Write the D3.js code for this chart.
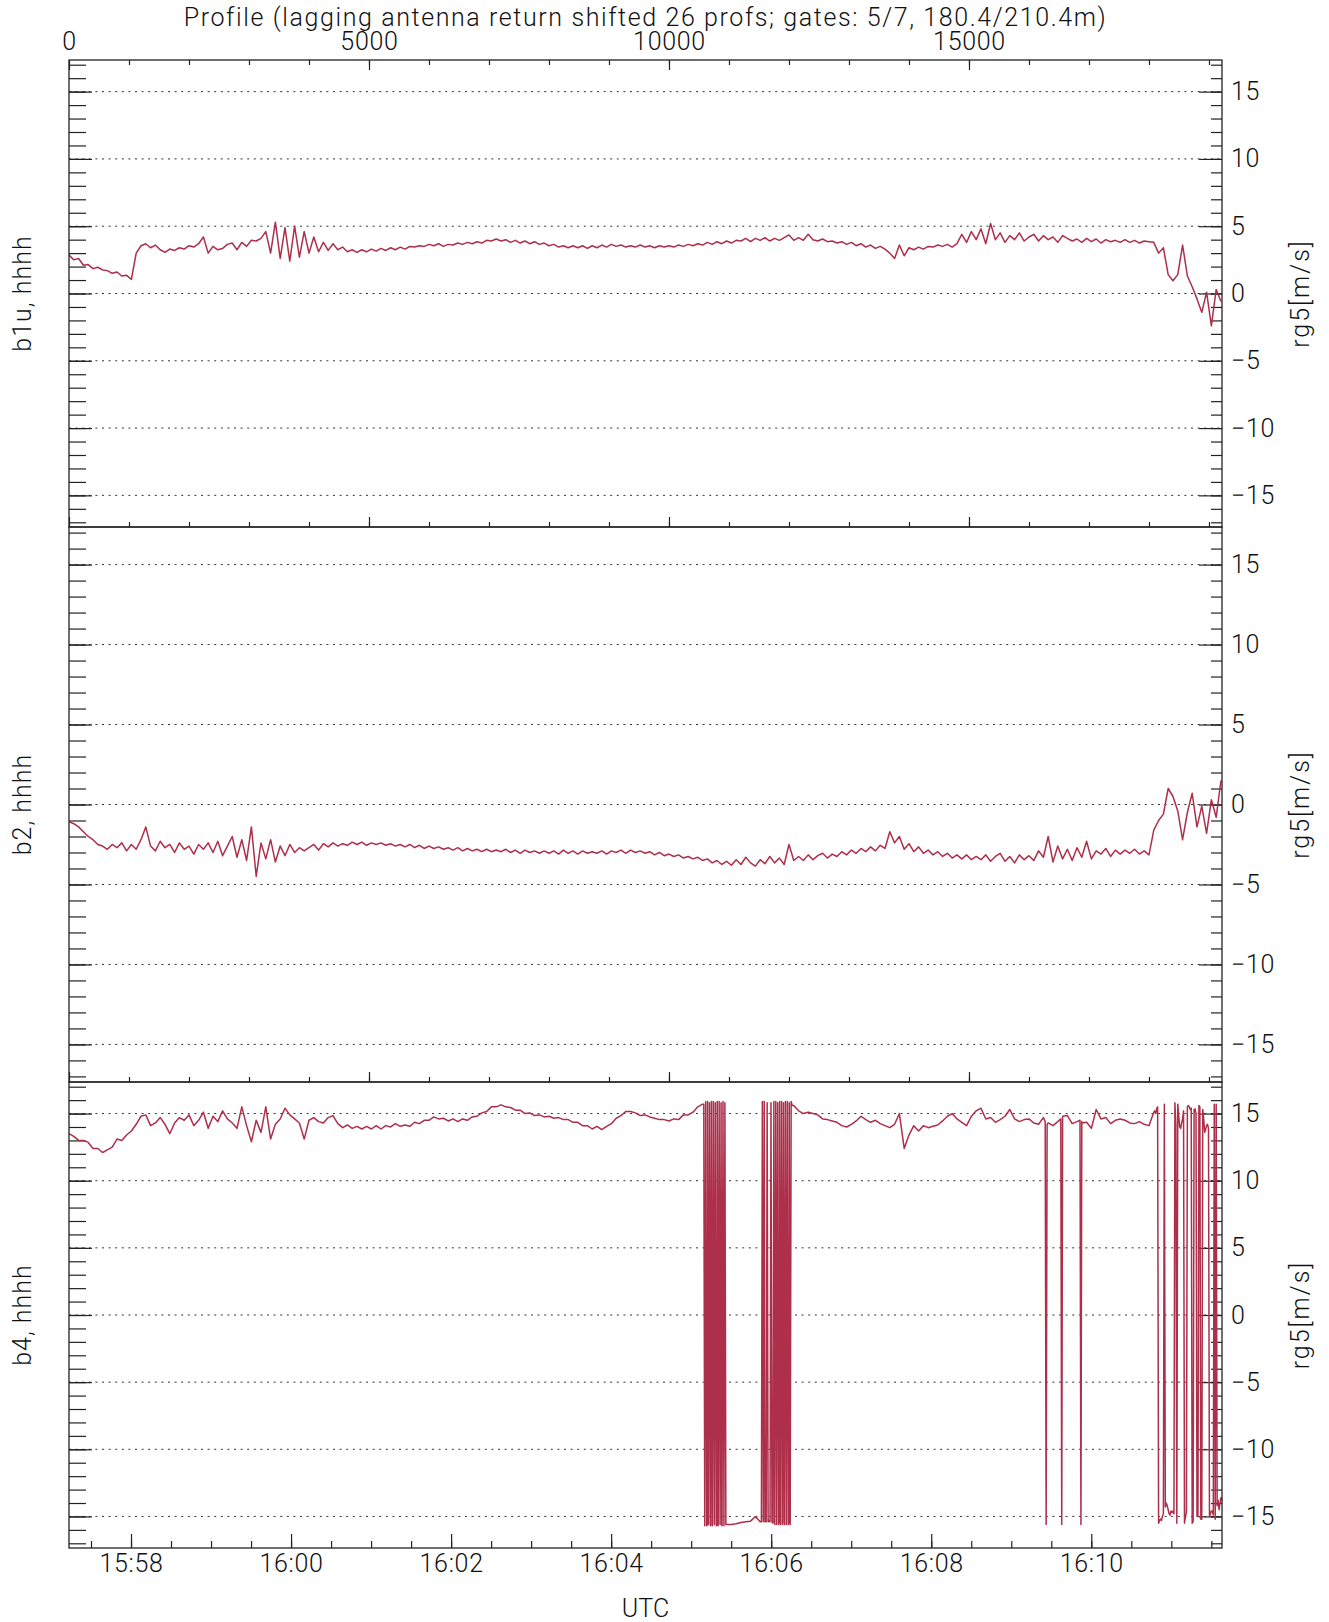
<!DOCTYPE html>
<html lang="en">
<head>
<meta charset="UTF-8">
<title>Profile b1u / b2 / b4</title>
<script src="https://d3js.org/d3.v7.min.js"></script>
<style>
  body { margin: 0; background: #fff; }
  text { font-family: Roboto, "DejaVu Sans", sans-serif; font-weight: 300; fill: #111; }
  .axis path.domain { display: none; }
  .axis line { stroke: #222; stroke-width: 1.2; }
  .axis text { font-family: Roboto, "DejaVu Sans", sans-serif; font-weight: 300; font-size: 25px; letter-spacing: 0.7px; fill: #111; }
</style>
</head>
<body>
<svg id="svg"></svg>
<script>
// one value every profStep profiles, starting at profile 0
const profStep = 80;

const b1u = [
  2.86, 2.5, 2.6, 2.1, 2.15, 1.85, 1.95, 1.75, 1.7, 1.5,
  1.6, 1.3, 1.35, 1.05, 3.0, 3.55, 3.7, 3.4, 3.6, 3.25,
  3.05, 3.3, 3.2, 3.4, 3.3, 3.55, 3.45, 3.7, 4.2, 3.0,
  3.5, 3.25, 3.35, 3.65, 3.75, 3.25, 3.8, 3.5, 3.95, 3.9,
  4.1, 4.6, 3.0, 5.3, 2.6, 4.9, 2.4, 5.0, 2.7, 4.6,
  3.0, 4.2, 3.1, 3.8, 3.2, 3.7, 3.25, 3.45, 3.1, 3.25,
  3.05, 3.25, 3.1, 3.3, 3.15, 3.35, 3.2, 3.4, 3.25, 3.45,
  3.3, 3.5, 3.45, 3.55, 3.5, 3.65, 3.55, 3.7, 3.5, 3.65,
  3.6, 3.75, 3.65, 3.8, 3.7, 3.85, 3.75, 3.95, 3.9, 4.05,
  3.9, 4.0, 3.8, 3.95, 3.75, 3.9, 3.7, 3.85, 3.65, 3.75,
  3.55, 3.65, 3.45, 3.55, 3.4, 3.55, 3.4, 3.55, 3.35, 3.55,
  3.4, 3.6, 3.45, 3.65, 3.5, 3.6, 3.45, 3.55, 3.45, 3.6,
  3.45, 3.55, 3.4, 3.55, 3.45, 3.55, 3.45, 3.6, 3.5, 3.65,
  3.55, 3.7, 3.6, 3.8, 3.65, 3.85, 3.7, 3.9, 3.75, 3.95,
  3.9, 4.1, 3.85, 4.1, 3.95, 4.15, 3.9, 4.1, 3.95, 4.15,
  4.35, 3.95, 4.15, 3.95, 4.4, 4.0, 3.9, 4.05, 3.85, 3.9,
  3.75, 3.85, 3.65, 3.8, 3.55, 3.7, 3.45, 3.6, 3.35, 3.5,
  3.3, 3.0, 2.6, 3.6, 2.8, 3.4, 3.25, 3.45, 3.3, 3.5,
  3.45, 3.6, 3.5, 3.65, 3.45, 3.7, 4.4, 3.8, 4.6, 4.0,
  4.8, 3.7, 5.2, 4.0, 4.5, 3.8, 4.3, 4.0, 4.5, 3.9,
  4.2, 4.4, 3.9, 4.3, 4.0, 4.2, 3.8, 4.3, 4.1, 3.9,
  4.05, 3.8, 4.1, 3.85, 4.05, 3.75, 4.0, 3.85, 3.95, 3.8,
  4.0, 3.8, 3.95, 3.75, 3.9, 3.85, 3.8, 3.0, 3.4, 1.4,
  0.95, 1.4, 3.6, 1.3, 0.5, -0.4, -1.4, 0.1, -2.4, 0.3, -0.6
];

const b2 = [
  -1.07, -1.2, -1.4, -1.7, -2.0, -2.2, -2.5, -2.6, -2.8, -2.5,
  -2.7, -2.4, -2.9, -2.5, -2.8, -2.2, -1.4, -2.6, -2.9, -2.3,
  -2.7, -2.5, -3.0, -2.4, -2.8, -2.6, -3.1, -2.5, -2.8, -2.4,
  -3.0, -2.3, -3.2, -2.6, -2.0, -3.3, -2.2, -3.5, -1.4, -4.5,
  -2.4, -3.4, -2.2, -3.6, -2.6, -3.2, -2.5, -3.0, -2.7, -2.9,
  -2.7, -2.5, -2.85, -2.45, -2.65, -2.4, -2.6, -2.45, -2.55, -2.35,
  -2.5, -2.35, -2.55, -2.4, -2.5, -2.4, -2.55, -2.45, -2.6, -2.5,
  -2.65, -2.5, -2.7, -2.55, -2.75, -2.6, -2.75, -2.65, -2.8, -2.7,
  -2.85, -2.7, -2.9, -2.75, -2.9, -2.8, -2.95, -2.8, -2.95, -2.85,
  -2.95, -2.8, -3.0, -2.85, -3.05, -2.85, -3.0, -2.9, -3.05, -2.9,
  -3.05, -2.9, -3.1, -2.85, -3.05, -2.9, -3.1, -2.9, -3.05, -2.95,
  -3.05, -2.9, -3.1, -2.9, -3.0, -2.85, -3.05, -2.85, -3.0, -2.9,
  -3.05, -2.95, -3.15, -3.0, -3.2, -3.1, -3.25, -3.15, -3.35, -3.25,
  -3.4, -3.3, -3.5, -3.4, -3.65, -3.5, -3.75, -3.55, -3.8, -3.45,
  -3.75, -3.3, -3.65, -3.85, -3.45, -3.7, -3.25, -3.65, -3.35, -3.75,
  -2.5, -3.5, -3.25, -3.5, -3.15, -3.45, -3.2, -3.05, -3.35, -3.1,
  -3.25, -2.95, -3.15, -2.85, -3.05, -2.75, -2.95, -2.65, -2.9, -2.55,
  -2.75, -1.7, -2.4, -2.0, -2.8, -2.45, -2.95, -2.65, -3.05, -2.85,
  -3.15, -2.95, -3.25, -3.05, -3.35, -3.15, -3.4, -3.15, -3.45, -3.25,
  -3.45, -3.15, -3.55, -3.25, -3.05, -3.55, -3.25, -3.65, -3.15, -3.45,
  -3.2, -3.5, -2.9, -3.3, -2.0, -3.6, -2.6, -3.4, -2.8, -3.5,
  -2.7, -3.3, -2.3, -3.4, -2.9, -3.1, -2.75, -3.25, -2.85, -3.1,
  -2.85, -3.05, -2.8, -3.1, -2.9, -3.15, -1.6, -1.0, -0.6, 1.0,
  0.5, -0.4, -2.2, -0.5, 0.7, -1.4, -0.1, -1.8, 0.3, -0.8, 1.5
];

// b4 base series up to profile 18000, the rest comes from the last burst
const b4 = [
  13.5, 13.3, 13.0, 13.0, 12.85, 12.4, 12.4, 12.1, 12.3, 12.5,
  13.1, 13.0, 13.4, 13.7, 14.2, 14.8, 14.9, 14.1, 14.3, 14.7,
  14.2, 13.5, 14.3, 14.7, 14.5, 14.9, 14.1, 14.5, 15.1, 13.9,
  14.8, 14.4, 15.2, 14.6, 14.3, 13.9, 15.5, 14.1, 12.9, 14.5,
  13.6, 15.5, 13.1, 14.2, 14.6, 15.4, 14.9, 14.6, 14.3, 13.1,
  14.5, 14.7, 14.4, 14.3, 14.7, 14.85, 14.25, 13.95, 14.15, 13.9,
  14.05, 13.85, 14.05, 13.85, 14.1, 13.85, 14.1, 14.0, 14.25, 14.05,
  14.15, 14.05, 14.35, 14.25, 14.5, 14.5, 14.75, 14.6, 14.65, 14.45,
  14.6, 14.4, 14.6, 14.5, 14.75, 14.8, 15.05, 15.15, 15.5, 15.5,
  15.65, 15.5, 15.45, 15.25, 15.25, 15.0, 15.05, 14.85, 14.9, 14.75,
  14.8, 14.65, 14.7, 14.55, 14.55, 14.35, 14.35, 14.1, 14.1, 13.85,
  14.05, 13.8, 14.05, 14.25, 14.65, 14.85, 15.15, 15.15, 15.05, 14.85,
  14.9, 14.75, 14.65, 14.55, 14.55, 14.45, 14.6, 14.55, 14.9, 14.9,
  15.1, 15.5, 15.7, -15.6, -15.6, -15.6, -15.6, -15.6, -15.6, -15.55,
  -15.45, -15.4, -15.35, -15.0, -15.4, -15.4, -15.4, -15.4, -15.4, -15.4,
  -15.4, 15.6, 15.2, 15.0, 15.1, 15.0, 14.9, 14.6, 14.55, 14.45,
  14.35, 14.1, 14.0, 14.2, 14.45, 14.8, 14.55, 14.35, 14.5, 14.25,
  14.1, 13.95, 14.2, 15.0, 12.4, 13.4, 14.1, 13.7, 14.1, 13.95,
  14.05, 14.15, 14.45, 14.8, 15.0, 14.6, 14.35, 14.1, 14.8, 15.2,
  15.4, 14.6, 14.7, 14.35, 14.55, 14.8, 15.3, 14.6, 14.4, 14.55,
  14.6, 14.3, 14.2, 14.7, 14.3, 14.1, 14.4, 14.6, 14.85, 14.25,
  14.4, 14.4, 14.35, 13.9, 15.3, 14.6, 14.7, 14.25, 14.5, 14.6,
  14.5, 14.3, 14.25, 14.4, 14.2, 14.1
];

// aliased stretches of b4, sampled every burstStep profiles
const burstStep = 16;
const burstStart = [10580, 11540, 16270, 16530, 16850, 18080];
const burstVals = [
  [15.7, -15.7, 15.9, -15.7, 15.9, -15.6, 15.8, -15.7, 15.9, -15.7, 15.9, -15.6,
   15.8, -15.7, 15.9, -15.7, 15.9, -15.6, 15.8, -15.7, 15.9, -15.7, 15.8, -15.6],
  [-15.4, 15.9, -15.4, 15.9, -15.3, -15.4, 15.8, -15.4, -15.3, -15.4, 15.8, -15.4, -15.5,
   15.9, -15.6, 15.9, -15.6, 15.8, -15.6, 15.9, -15.6, 15.9, -15.6, 15.8, -15.6,
   15.9, -15.6, 15.9, -15.6, 15.8, -15.6, 15.9, 15.6],
  [14.4, -15.6, 14.2],
  [14.6, -15.6, 14.8],
  [14.5, -15.6, 14.3],
  [15.1, 15.2, 15.0, 15.35, 15.5, -15.5, -15.3, -15.2, -15.3, -15.0, -14.8, 15.7,
   -14.3, -14.0, -14.2, -14.5, -14.8, -14.9, -14.6, -14.7, -14.6, -14.8, 15.8, 14.2,
   -15.5, 15.7, 14.8, 14.0, 13.9, 14.3, 14.6, 15.2, -15.5, -15.0, -14.7, 15.5,
   15.6, 15.5, 15.3, 15.4, -15.5, -15.4, 15.3, 15.35, 15.0, -15.0, -15.0, 15.6,
   15.5, -15.2, -15.2, 15.3, 14.6, 13.6, 13.8, 14.1, 14.2, 13.9, -15.0, -14.8,
   -14.6, -14.6, -14.9, 15.7, -15.2, 15.7, -14.2, -13.8, -14.5, -14.0, -13.6, -13.8]
];

const panelNames = ["b1u, hhhh", "b2, hhhh", "b4, hhhh"];
const yTitle = "rg5[m/s]";
const titleText = "Profile (lagging antenna return shifted 26 profs; gates: 5/7, 180.4/210.4m)";
const gridValues = [-15, -10, -5, 0, 5, 10, 15];
const profTicks = [0, 5000, 10000, 15000];
const profMax = 19217;
const yLimit = 17.35;
const timeStart = new Date(2000, 0, 1, 15, 57, 13, 500);
const timeEnd = new Date(2000, 0, 1, 16, 11, 38);

const width = 1329, height = 1622;
const left = 69, right = 1222;
const panelTops = [60, 527, 1082];
const panelBottoms = [527, 1082, 1548];
const lineColor = "#ad2f4a";

const svg = d3.select("#svg").attr("width", width).attr("height", height);

const x = d3.scaleLinear().domain([0, profMax]).range([left, right]);
const xTime = d3.scaleTime().domain([timeStart, timeEnd]).range([left, right]);

const seriesPts = [
  b1u.map((v, i) => [i * profStep, v]),
  b2.map((v, i) => [i * profStep, v]),
  b4.map((v, i) => [i * profStep, v])
];
burstStart.forEach((s, k) => {
  burstVals[k].forEach((v, j) => seriesPts[2].push([s + j * burstStep, v]));
});
seriesPts[2].sort((a, b) => a[0] - b[0]);

const minorY = d3.range(-17, 18, 1);

panelNames.forEach((name, p) => {
  const top = panelTops[p], bottom = panelBottoms[p];
  const y = d3.scaleLinear().domain([-yLimit, yLimit]).range([bottom, top]);
  const g = svg.append("g");

  // dotted grid
  g.selectAll("line.grid").data(gridValues).enter().append("line")
    .attr("class", "grid")
    .attr("x1", left).attr("x2", right)
    .attr("y1", d => y(d)).attr("y2", d => y(d))
    .attr("stroke", "#333").attr("stroke-width", 1)
    .attr("stroke-dasharray", "2,4.6");

  // left ticks
  g.append("g").attr("class", "axis").attr("transform", `translate(${left},0)`)
    .call(d3.axisRight(y).tickValues(minorY).tickSize(17).tickSizeOuter(0).tickFormat(""));
  g.append("g").attr("class", "axis").attr("transform", `translate(${left},0)`)
    .call(d3.axisRight(y).tickValues(gridValues).tickSize(23).tickSizeOuter(0).tickFormat(""));

  // right ticks and labels
  g.append("g").attr("class", "axis").attr("transform", `translate(${right},0)`)
    .call(d3.axisLeft(y).tickValues(minorY).tickSize(11).tickSizeOuter(0).tickFormat(""));
  g.append("g").attr("class", "axis").attr("transform", `translate(${right},0)`)
    .call(d3.axisLeft(y).tickValues(gridValues).tickSize(23).tickSizeOuter(0).tickFormat(""));
  g.append("g").attr("class", "axis").attr("transform", `translate(${right},0)`)
    .call(d3.axisRight(y).tickValues(gridValues).tickSize(0).tickPadding(9).tickSizeOuter(0));

  // bottom edge ticks
  if (p < 2) {
    g.append("g").attr("class", "axis").attr("transform", `translate(0,${bottom})`)
      .call(d3.axisTop(x).tickValues(d3.range(1000, profMax, 1000)).tickSize(5).tickSizeOuter(0).tickFormat(""));
    g.append("g").attr("class", "axis").attr("transform", `translate(0,${bottom})`)
      .call(d3.axisTop(x).tickValues(profTicks).tickSize(10).tickSizeOuter(0).tickFormat(""));
  } else {
    g.append("g").attr("class", "axis").attr("transform", `translate(0,${bottom})`)
      .call(d3.axisTop(xTime).ticks(d3.timeSecond.every(30)).tickSize(7).tickSizeOuter(0).tickFormat(""));
    g.append("g").attr("class", "axis").attr("transform", `translate(0,${bottom})`)
      .call(d3.axisTop(xTime).ticks(d3.timeMinute.every(2)).tickSize(14).tickSizeOuter(0).tickFormat(""));
    g.append("g").attr("class", "axis").attr("transform", `translate(0,${bottom})`)
      .call(d3.axisBottom(xTime).ticks(d3.timeMinute.every(2)).tickSize(0).tickPadding(6)
        .tickSizeOuter(0).tickFormat(d3.timeFormat("%H:%M")));
  }

  // top profile axis on first panel
  if (p === 0) {
    g.append("g").attr("class", "axis").attr("transform", `translate(0,${top})`)
      .call(d3.axisBottom(x).tickValues(d3.range(1000, profMax, 1000)).tickSize(5).tickSizeOuter(0).tickFormat(""));
    g.append("g").attr("class", "axis").attr("transform", `translate(0,${top})`)
      .call(d3.axisBottom(x).tickValues(profTicks).tickSize(10).tickSizeOuter(0).tickFormat(""));
    g.append("g").attr("class", "axis").attr("transform", `translate(0,${top})`)
      .call(d3.axisTop(x).tickValues(profTicks).tickSize(0).tickPadding(10).tickSizeOuter(0)
        .tickFormat(d3.format("d")));
  }

  // data line
  g.append("path")
    .datum(seriesPts[p])
    .attr("fill", "none")
    .attr("stroke", lineColor)
    .attr("stroke-width", 1.5)
    .attr("stroke-linejoin", "round")
    .attr("d", d3.line().x(d => x(d[0])).y(d => y(d[1])));

  // frame
  g.append("rect")
    .attr("x", left).attr("y", top)
    .attr("width", right - left).attr("height", bottom - top)
    .attr("fill", "none").attr("stroke", "#222").attr("stroke-width", 1.3);

  // panel labels
  const mid = (top + bottom) / 2;
  g.append("text")
    .attr("transform", `translate(22,${mid}) rotate(-90)`)
    .attr("text-anchor", "middle").attr("dy", "0.35em")
    .style("font-size", "25px").style("letter-spacing", "1px")
    .text(name);
  g.append("text")
    .attr("transform", `translate(1300,${mid}) rotate(-90)`)
    .attr("text-anchor", "middle").attr("dy", "0.35em")
    .style("font-size", "25px").style("letter-spacing", "2px")
    .text(yTitle);
});

// title and x label
svg.append("text")
  .attr("x", (left + right) / 2).attr("y", 26)
  .attr("text-anchor", "middle")
  .style("font-size", "25px").style("letter-spacing", "1.6px")
  .text(titleText);

svg.append("text")
  .attr("x", (left + right) / 2).attr("y", 1617)
  .attr("text-anchor", "middle")
  .style("font-size", "25px")
  .text("UTC");
</script>
</body>
</html>
